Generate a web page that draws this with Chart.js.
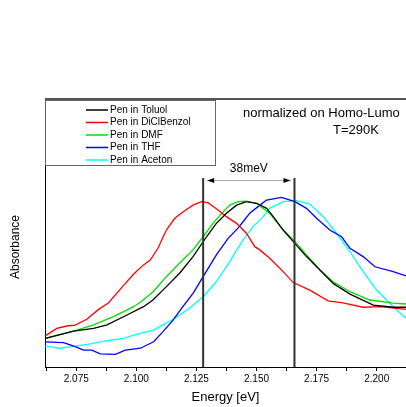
<!DOCTYPE html>
<html>
<head>
<meta charset="utf-8">
<script src="https://cdn.jsdelivr.net/npm/chart.js@4.4.0/dist/chart.umd.min.js"></script>
<style>
  html, body { margin: 0; padding: 0; background: #fff; }
  canvas { display: block; }
</style>
</head>
<body>
<canvas id="spectra" width="406" height="407"></canvas>
<script>
// Pentacene absorption band in five solvents, normalized on the Homo-Lumo peak
const seriesLabels = ['Pen in Toluol', 'Pen in DiClBenzol', 'Pen in DMF', 'Pen in THF', 'Pen in Aceton']

const toluolEnergy = [2.0621, 2.0739, 2.0822, 2.0878, 2.0961, 2.1030, 2.1069, 2.1125, 2.1180, 2.1236, 2.1292, 2.1333, 2.1375, 2.1417, 2.1458, 2.1500, 2.1542, 2.1569, 2.1611, 2.1653, 2.1708, 2.1764, 2.1819, 2.1889, 2.1986, 2.2069, 2.2122]
const toluolAbs = [0.107, 0.134, 0.144, 0.157, 0.194, 0.225, 0.250, 0.300, 0.350, 0.412, 0.486, 0.536, 0.574, 0.604, 0.617, 0.611, 0.592, 0.562, 0.511, 0.468, 0.412, 0.362, 0.312, 0.272, 0.231, 0.223, 0.223]

const diclbenzolEnergy = [2.0621, 2.0669, 2.0711, 2.0746, 2.0794, 2.0843, 2.0885, 2.0940, 2.0989, 2.1030, 2.1058, 2.1090, 2.1125, 2.1160, 2.1201, 2.1236, 2.1271, 2.1298, 2.1340, 2.1375, 2.1417, 2.1458, 2.1493, 2.1514, 2.1555, 2.1611, 2.1653, 2.1722, 2.1798, 2.1860, 2.1943, 2.2014, 2.2122]
const diclbenzolAbs = [0.116, 0.144, 0.153, 0.156, 0.178, 0.215, 0.240, 0.297, 0.347, 0.381, 0.399, 0.443, 0.511, 0.555, 0.583, 0.604, 0.617, 0.613, 0.586, 0.561, 0.536, 0.499, 0.449, 0.437, 0.406, 0.356, 0.315, 0.287, 0.247, 0.239, 0.223, 0.225, 0.215]

const dmfEnergy = [2.0621, 2.0739, 2.0822, 2.0905, 2.0989, 2.1014, 2.1069, 2.1125, 2.1180, 2.1236, 2.1278, 2.1319, 2.1361, 2.1389, 2.1423, 2.1458, 2.1500, 2.1555, 2.1611, 2.1660, 2.1708, 2.1764, 2.1819, 2.1889, 2.1972, 2.2069, 2.2122]
const dmfAbs = [0.107, 0.134, 0.157, 0.188, 0.225, 0.240, 0.280, 0.337, 0.387, 0.437, 0.486, 0.536, 0.579, 0.604, 0.617, 0.619, 0.611, 0.573, 0.511, 0.468, 0.418, 0.362, 0.318, 0.281, 0.250, 0.238, 0.235]

const thfEnergy = [2.0621, 2.0697, 2.0746, 2.0780, 2.0815, 2.0850, 2.0913, 2.0954, 2.1017, 2.1072, 2.1111, 2.1153, 2.1188, 2.1236, 2.1278, 2.1333, 2.1382, 2.1423, 2.1444, 2.1472, 2.1514, 2.1542, 2.1604, 2.1660, 2.1708, 2.1750, 2.1805, 2.1854, 2.1889, 2.1944, 2.1993, 2.2069, 2.2122]
const thfAbs = [0.094, 0.091, 0.076, 0.063, 0.063, 0.049, 0.047, 0.063, 0.070, 0.094, 0.132, 0.175, 0.219, 0.275, 0.337, 0.418, 0.480, 0.518, 0.542, 0.574, 0.604, 0.623, 0.633, 0.617, 0.592, 0.555, 0.511, 0.486, 0.443, 0.412, 0.374, 0.356, 0.340]

const acetonEnergy = [2.0621, 2.0683, 2.0746, 2.0808, 2.0878, 2.0947, 2.1003, 2.1072, 2.1111, 2.1153, 2.1222, 2.1278, 2.1333, 2.1389, 2.1444, 2.1486, 2.1528, 2.1555, 2.1611, 2.1667, 2.1722, 2.1778, 2.1833, 2.1889, 2.1944, 2.2000, 2.2069, 2.2122]
const acetonAbs = [0.078, 0.070, 0.078, 0.086, 0.098, 0.107, 0.123, 0.138, 0.157, 0.178, 0.219, 0.262, 0.318, 0.393, 0.474, 0.524, 0.561, 0.592, 0.617, 0.621, 0.608, 0.561, 0.499, 0.430, 0.356, 0.287, 0.225, 0.182]

// x axis ticks: minor every 12.5 meV, labels on the 25 meV ones
const xTickValues = [2.0625, 2.075, 2.0875, 2.1, 2.1125, 2.125, 2.1375, 2.15, 2.1625, 2.175, 2.1875, 2.2]
const xTickLabels = ['2.075', '2.100', '2.125', '2.150', '2.175', '2.200']

// peak shift between DiClBenzol and THF
const markerEnergies = [2.1278, 2.1658]
const markerTop = 0.705
const arrowLevel = 0.698

const FONT = "'Liberation Sans', Arial, sans-serif"
const colors = ['#000000', '#ff0000', '#00dd00', '#0000ff', '#00ffff']

const toPoints = (xs, ys) => xs.map((e, i) => ({ x: e, y: ys[i] }))
const seriesData = [
  toPoints(toluolEnergy, toluolAbs),
  toPoints(diclbenzolEnergy, diclbenzolAbs),
  toPoints(dmfEnergy, dmfAbs),
  toPoints(thfEnergy, thfAbs),
  toPoints(acetonEnergy, acetonAbs)
]

const annotations = {
  id: 'annotations',
  afterDraw(chart) {
    const { ctx, chartArea, scales: { x, y } } = chart
    ctx.save()

    // top frame line
    ctx.strokeStyle = '#555'
    ctx.lineWidth = 2
    ctx.beginPath()
    ctx.moveTo(chartArea.left, chartArea.top)
    ctx.lineTo(chartArea.right, chartArea.top)
    ctx.stroke()

    // vertical markers
    const [x1, x2] = markerEnergies.map(e => x.getPixelForValue(e))
    const yTop = y.getPixelForValue(markerTop)
    ctx.strokeStyle = '#333'
    ctx.lineWidth = 2
    ctx.beginPath()
    ctx.moveTo(x1, yTop); ctx.lineTo(x1, chartArea.bottom)
    ctx.moveTo(x2, yTop); ctx.lineTo(x2, chartArea.bottom)
    ctx.stroke()

    // double arrow between markers
    const ya = Math.round(y.getPixelForValue(arrowLevel)) + 0.5
    ctx.strokeStyle = '#aaa'
    ctx.lineWidth = 1
    ctx.beginPath()
    ctx.moveTo(x1 + 4, ya); ctx.lineTo(x2 - 4, ya)
    ctx.stroke()
    ctx.fillStyle = '#000'
    ctx.beginPath()
    ctx.moveTo(x1 + 4, ya); ctx.lineTo(x1 + 11, ya - 2.5); ctx.lineTo(x1 + 11, ya + 2.5); ctx.closePath()
    ctx.moveTo(x2 - 4, ya); ctx.lineTo(x2 - 11, ya - 2.5); ctx.lineTo(x2 - 11, ya + 2.5); ctx.closePath()
    ctx.fill()

    const shift = Math.round((markerEnergies[1] - markerEnergies[0]) * 1000)
    ctx.font = `12px ${FONT}`
    ctx.textAlign = 'center'
    ctx.textBaseline = 'middle'
    ctx.fillText(`${shift}meV`, (x1 + x2) / 2, ya - 12)

    // annotation text top right
    ctx.font = `13px ${FONT}`
    ctx.textAlign = 'left'
    ctx.fillText('normalized on Homo-Lumo', 243, 113)
    ctx.fillText('T=290K', 333, 130)

    // y axis title
    ctx.save()
    ctx.translate(16, 247)
    ctx.rotate(-Math.PI / 2)
    ctx.textAlign = 'center'
    ctx.font = `12px ${FONT}`
    ctx.fillText('Absorbance', 0, 0)
    ctx.restore()

    // legend box
    const lx = chartArea.left, ly = chartArea.top + 1
    ctx.fillStyle = '#fff'
    ctx.fillRect(lx, ly, 171, 66)
    ctx.strokeStyle = '#666'
    ctx.lineWidth = 1
    ctx.strokeRect(lx + 0.5, ly + 0.5, 170, 65)
    ctx.font = `10px ${FONT}`
    ctx.textAlign = 'left'
    chart.data.datasets.forEach((ds, i) => {
      const ry = ly + 10 + i * 12.5
      ctx.strokeStyle = ds.borderColor
      ctx.lineWidth = 1.5
      ctx.beginPath()
      ctx.moveTo(lx + 41, ry); ctx.lineTo(lx + 63, ry)
      ctx.stroke()
      ctx.fillStyle = '#000'
      ctx.fillText(ds.label, lx + 65, ry)
    })

    ctx.restore()
  }
}

new Chart(document.getElementById('spectra'), {
  type: 'line',
  data: {
    datasets: seriesData.map((pts, i) => ({
      label: seriesLabels[i],
      data: pts,
      borderColor: colors[i],
      borderWidth: 1.3,
      pointRadius: 0,
      tension: 0,
      fill: false
    }))
  },
  options: {
    responsive: false,
    animation: false,
    devicePixelRatio: 1,
    layout: { padding: { top: 99, right: 0, left: 0, bottom: 0 } },
    plugins: {
      legend: { display: false },
      tooltip: { enabled: false }
    },
    scales: {
      x: {
        type: 'linear',
        min: 2.062,
        max: 2.2122,
        afterFit: scale => { scale.height = 40 },
        afterBuildTicks: scale => { scale.ticks = xTickValues.map(v => ({ value: v })) },
        ticks: {
          autoSkip: false,
          maxRotation: 0,
          padding: 2,
          color: '#000',
          font: { family: FONT, size: 10 },
          callback: value => {
            const s = value.toFixed(3)
            return xTickLabels.includes(s) ? s : ''
          }
        },
        grid: { drawOnChartArea: false, drawTicks: true, tickLength: 4, color: '#000' },
        border: { display: true, color: '#000', width: 1 },
        title: {
          display: true,
          text: 'Energy [eV]',
          color: '#000',
          font: { family: FONT, size: 13 },
          padding: { top: 0, bottom: 2 }
        }
      },
      y: {
        type: 'linear',
        min: 0,
        max: 1,
        afterFit: scale => { scale.width = 45 },
        ticks: { display: false },
        grid: { drawOnChartArea: false, drawTicks: false },
        border: { display: true, color: '#000', width: 1 }
      }
    }
  },
  plugins: [annotations]
})
</script>
</body>
</html>
